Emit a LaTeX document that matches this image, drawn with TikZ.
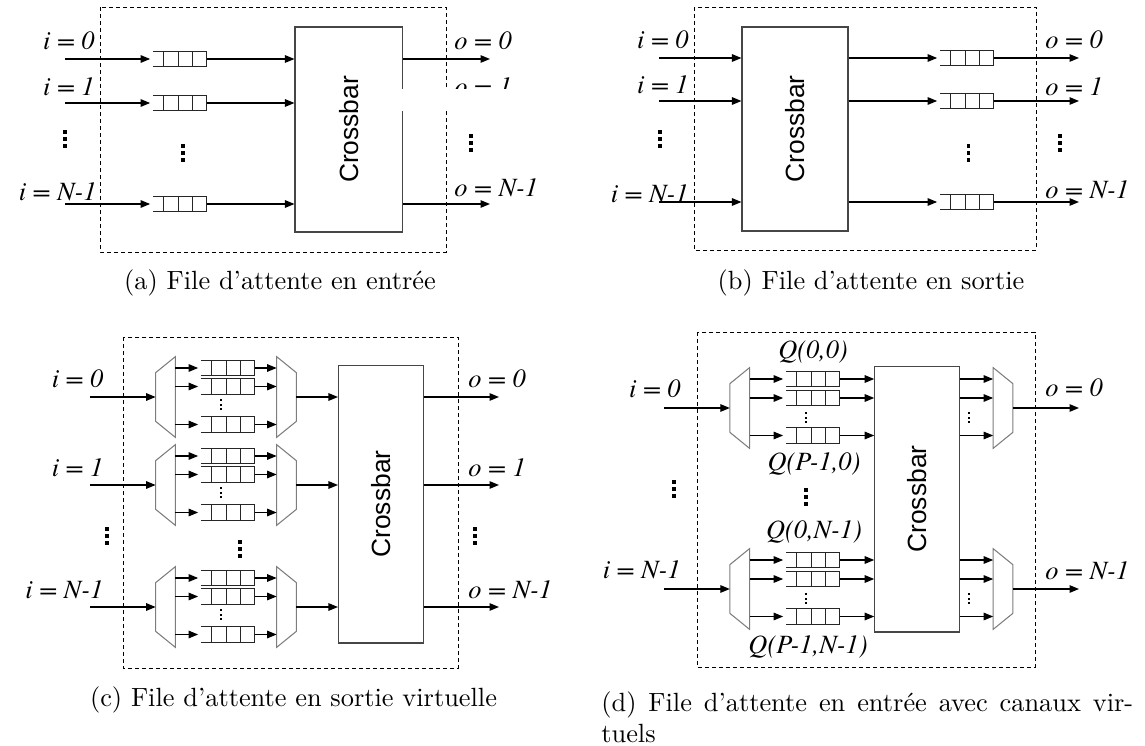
\documentclass[tikz,border=0pt]{standalone}
\usepackage{fontspec}
\usepackage{graphicx}
\newfontfamily\timesit{texgyretermes-italic}[Extension=.otf]
\newfontfamily\arialsf{Liberation Sans}
\newfontfamily\capfont{lmroman10-regular}[Extension=.otf, Ligatures=TeX]
\definecolor{boxgray}{RGB}{70,70,70}
\definecolor{muxgray}{RGB}{125,125,125}
\usetikzlibrary{calc, arrows.meta}

\tikzset{
  frame/.style={draw, dash pattern=on 0.08cm off 0.06cm, line width=0.5pt},
  xbar/.style={draw=boxgray, fill=white, line width=0.6pt, inner sep=0,
               font=\arialsf\fontsize{15}{18}\selectfont},
  link/.style={-{Triangle[length=0.19cm, width=0.15cm]}, line width=0.7pt},
  tofifo/.style={link, shorten >=0.06cm},
  fifobox/.style={minimum width=1.06cm, minimum height=0.29cm, inner sep=0},
  fifoline/.style={draw=black!85, line width=0.5pt},
  muxbox/.style={minimum width=0.38cm, minimum height=1.6cm, inner sep=0},
  muxline/.style={draw=muxgray, line width=0.6pt},
  port/.style={font=\timesit\fontsize{15}{18}\selectfont, inner sep=0},
  caption/.style={font=\capfont\fontsize{15}{18}\selectfont, inner sep=0}
}

% queue: open on the left, three cells
\newcommand{\fifonode}[2]{%
  \node[fifobox] (#1) at #2 {};
  \draw[fifoline] (#1.north west) -- (#1.north east) -- (#1.south east) -- (#1.south west);
  \foreach \cellpos in {0.2,0.47,0.735}
    \draw[fifoline] ($(#1.north west)!\cellpos!(#1.north east)$) -- ($(#1.south west)!\cellpos!(#1.south east)$);
}
% demultiplexer (narrow side left) and multiplexer (narrow side right)
\newcommand{\demuxnode}[2]{%
  \node[muxbox] (#1) at #2 {};
  \draw[muxline] (#1.north east) -- (#1.south east)
    -- ([yshift=0.32cm]#1.south west) -- ([yshift=-0.32cm]#1.north west) -- cycle;
}
\newcommand{\muxnode}[2]{%
  \node[muxbox] (#1) at #2 {};
  \draw[muxline] (#1.north west) -- (#1.south west)
    -- ([yshift=0.32cm]#1.south east) -- ([yshift=-0.32cm]#1.north east) -- cycle;
}
\newcommand{\bigvdots}[2]{\foreach \dotpos in {0,7,14} \fill (#1-1.8,#2+\dotpos) rectangle +(3.6,3.6);}
\newcommand{\smallvdots}[2]{\foreach \dotpos in {0,4.5,9} \fill (#1-1,#2+\dotpos) rectangle +(2,2);}

\begin{document}
\begin{tikzpicture}[x=0.02cm, y=-0.02cm]
  \useasboundingbox (0,0) rectangle (1145,746);

  % (a) input queuing
  \draw[frame] (100,7) rectangle (446,252);
  \node[xbar, minimum width=2.15cm, minimum height=4.1cm] (xbarA) at (348.75,129.5)
    {\rotatebox{90}{Crossbar}};
  \foreach \g/\y in {0/59, 1/103, 2/204} {
    \coordinate (inA\g) at (65,\y);
    \coordinate (outA\g) at (490,\y);
    \fifonode{qA\g}{(180,\y)}
    \draw[tofifo] (inA\g) -- (qA\g.west);
    \draw[link] (qA\g.east) -- (qA\g.east -| xbarA.west);
    \draw[link] (xbarA.east |- outA\g) -- (outA\g);
  }
  \node[port, anchor=east] (iA0) at (95,41) {i = 0};
  \node[port, anchor=east] (iA1) at (95,87) {i = 1};
  \node[port, anchor=east] (iA2) at (97,192) {i = N-1};
  \node[port, anchor=west] (oA0) at (454,41) {o = 0};
  \node[port, anchor=west] (oA1) at (454,87) {o = 1};
  \node[port, anchor=west] (oA2) at (454,188) {o = N-1};
  \fill[white] (395,89) rectangle (512,111);
  \bigvdots{65}{130} \bigvdots{183}{144} \bigvdots{471}{134}
  \node[caption] (capA) at (280,283) {(a) File d'attente en entrée};

  % (b) output queuing
  \draw[frame] (694,7) rectangle (1036,250);
  \node[xbar, minimum width=2.12cm, minimum height=4.08cm] (xbarB) at (795,129)
    {\rotatebox{90}{Crossbar}};
  \foreach \g/\y in {0/58, 1/101, 2/202} {
    \coordinate (inB\g) at (659,\y);
    \coordinate (outB\g) at (1079,\y);
    \fifonode{qB\g}{(967,\y)}
    \draw[link] (inB\g) -- (inB\g -| xbarB.west);
    \draw[tofifo] (xbarB.east |- qB\g.west) -- (qB\g.west);
    \draw[link] (qB\g.east) -- (outB\g);
  }
  \node[port, anchor=east] (iB0) at (689,40) {i = 0};
  \node[port, anchor=east] (iB1) at (689,85) {i = 1};
  \node[port, anchor=east] (iB2) at (689,194) {i = N-1};
  \node[port, anchor=west] (oB0) at (1045,40) {o = 0};
  \node[port, anchor=west] (oB1) at (1045,87) {o = 1};
  \node[port, anchor=west] (oB2) at (1045,190) {o = N-1};
  \bigvdots{660}{130} \bigvdots{968.6}{144} \bigvdots{1060}{134}
  \node[caption] (capB) at (871,283) {(b) File d'attente en sortie};

  % (c) virtual output queuing
  \draw[frame] (123,337) rectangle (458,668);
  \node[xbar, minimum width=1.7cm, minimum height=5.56cm] (xbarC) at (381,504)
    {\rotatebox{90}{Crossbar}};
  \foreach \g/\y in {0/397, 1/485, 2/607} {
    \coordinate (inC\g) at (90,\y);
    \coordinate (outC\g) at (499,\y);
    \demuxnode{dmC\g}{(165.5,\y)}
    \muxnode{mxC\g}{(286.5,\y)}
    \draw[link] (inC\g) -- (dmC\g.west);
    \foreach \j/\dy in {0/-29, 1/-10.5, 2/27.5} {
      \fifonode{qC\g\j}{(228,\y+\dy)}
      \draw[tofifo] (qC\g\j.west -| dmC\g.east) -- (qC\g\j.west);
      \draw[link] (qC\g\j.east) -- (qC\g\j.east -| mxC\g.west);
    }
    \smallvdots{220.7}{\y+2}
    \draw[link] (mxC\g.east) -- (mxC\g.east -| xbarC.west);
    \draw[link] (xbarC.east |- outC\g) -- (outC\g);
  }
  \node[port, anchor=east] (iC0) at (103.6,379) {i = 0};
  \node[port, anchor=east] (iC1) at (103.6,468) {i = 1};
  \node[port, anchor=east] (iC2) at (103.6,590) {i = N-1};
  \node[port, anchor=west] (oC0) at (468,379) {o = 0};
  \node[port, anchor=west] (oC1) at (468,468) {o = 1};
  \node[port, anchor=west] (oC2) at (468,590) {o = N-1};
  \bigvdots{107}{527} \bigvdots{240}{540} \bigvdots{475}{527}
  \node[caption] (capC) at (293.5,700) {(c) File d'attente en sortie virtuelle};

  % (d) input queuing with virtual channels
  \draw[frame] (697,332) rectangle (1035,667);
  \node[xbar, minimum width=1.69cm, minimum height=5.32cm] (xbarD) at (917,499)
    {\rotatebox{90}{Crossbar}};
  \foreach \g/\y in {0/408, 1/589} {
    \coordinate (inD\g) at (664,\y);
    \coordinate (outD\g) at (1079,\y);
    \demuxnode{dmD\g}{(739.7,\y)}
    \muxnode{mxD\g}{(1003,\y)}
    \draw[link] (inD\g) -- (dmD\g.west);
    \foreach \j/\dy in {0/-29, 1/-10, 2/27.5} {
      \fifonode{qD\g\j}{(813,\y+\dy)}
      \draw[tofifo] (qD\g\j.west -| dmD\g.east) -- (qD\g\j.west);
      \draw[link] (qD\g\j.east) -- (qD\g\j.east -| xbarD.west);
      \draw[link] (xbarD.east |- qD\g\j.east) -- (qD\g\j.east -| mxD\g.west);
    }
    \smallvdots{806}{\y+4}
    \smallvdots{969}{\y+4}
    \draw[link] (mxD\g.east) -- (outD\g);
  }
  \node[port] (qlab00) at (813,352) {Q(0,0)};
  \node[port] (qlabP0) at (814,464) {Q(P-1,0)};
  \node[port] (qlab0N) at (814,532) {Q(0,N-1)};
  \node[port] (qlabPN) at (808,647) {Q(P-1,N-1)};
  \node[port, anchor=east] (iD0) at (681,389) {i = 0};
  \node[port, anchor=east] (iD1) at (681,570) {i = N-1};
  \node[port, anchor=west] (oD0) at (1045,388) {o = 0};
  \node[port, anchor=west] (oD1) at (1045,571) {o = N-1};
  \bigvdots{806}{488} \bigvdots{674}{480}
  \node[caption, anchor=west] (capD1) at (601,705)
    {\makebox[10.64cm][s]{(d) File d'attente en entrée avec canaux vir-}};
  \node[caption, anchor=west] (capD2) at (601,733) {tuels};
\end{tikzpicture}
\end{document}
